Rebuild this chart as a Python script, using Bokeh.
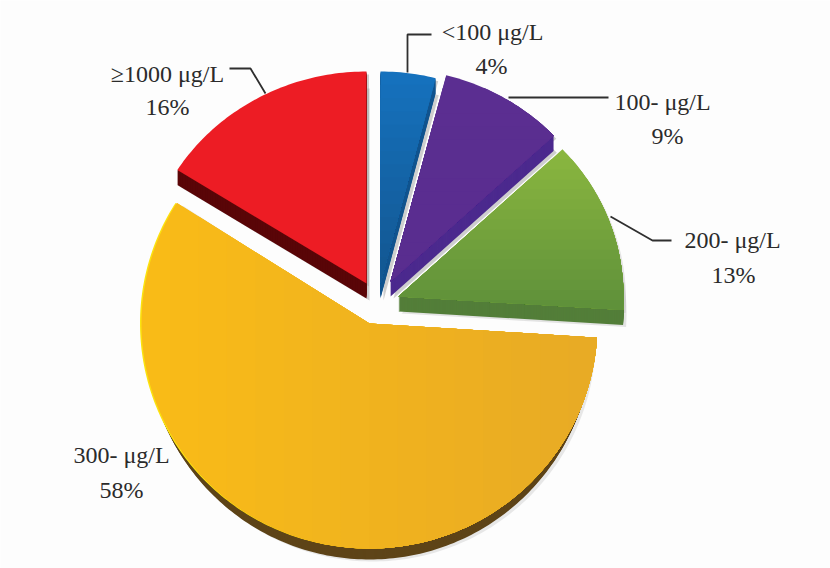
from math import sin, cos, radians
from bokeh.plotting import figure
from bokeh.models import Range1d
from bokeh.core.properties import value
from bokeh.embed import file_html
from bokeh.resources import INLINE

# ---- data ----
categories = ["<100 μg/L", "100- μg/L", "200- μg/L", "300- μg/L", "≥1000 μg/L"]
percents = [4, 9, 13, 58, 16]
percent_labels = ["4%", "9%", "13%", "58%", "16%"]

# ---- layout (page pixels) ----
centers = [(380, 283), (390, 281), (398, 296), (369, 323), (366, 283)]
radii = [(222, 212), (224, 213), (225, 215), (228, 225), (224, 212)]
depths = [15, 15, 15, 11, 15]
side_shrink = [0, 0, 0, 0.0018, 0]
cat_pos = [(492, 31), (662, 101), (732, 239), (121, 454), (167, 73)]
pct_pos = [(491, 65), (667, 135), (733, 274), (121, 489), (167, 106)]
leaders = [
    ([407, 407, 431], [72, 34, 34]),
    ([508, 608], [97, 97]),
    ([610, 652, 671], [216, 240, 240]),
    ([265, 250, 229], [93, 68, 68]),
]

# ---- styles ----
top_colors = ["#1571bd", "#5b2e91", "#8ab63f", "#f9bb17", "#ed1c24"]
end_colors = ["#135791", "#592d8f", "#5f913a", "#e8ab25", "#ed1c24"]
gradient_axis = ["y", "y", "y", "x", "y"]
side_colors = ["#12558f", "#4c2a8e", "#537e39", "#5e4418", "#5a0608"]
shadow_alpha = [0.55, 0.55, 0.3, 0.25, 0.55]
draw_order = [4, 0, 1, 2, 3]


def outline(i, a0, a1):
    cx, cy = centers[i]
    rx, ry = radii[i]
    n = max(8, int(a1 - a0))
    xs, ys = [cx], [cy]
    for k in range(n + 1):
        t = radians(a0 + (a1 - a0) * k / n)
        xs.append(cx + rx * sin(t))
        ys.append(cy - ry * cos(t))
    return xs, ys


def clip(xs, ys, axis, limit):
    """Keep the part of the polygon whose x or y coordinate is at least limit."""
    pts = list(zip(xs, ys))
    idx = 0 if axis == "x" else 1
    out = []
    for j, a in enumerate(pts):
        b = pts[(j + 1) % len(pts)]
        ina, inb = a[idx] >= limit, b[idx] >= limit
        if ina:
            out.append(a)
        if ina != inb:
            f = (limit - a[idx]) / (b[idx] - a[idx])
            out.append((a[0] + (b[0] - a[0]) * f, a[1] + (b[1] - a[1]) * f))
    return [p[0] for p in out], [p[1] for p in out]


def mix(c0, c1, f):
    v0 = [int(c0[k:k + 2], 16) for k in (1, 3, 5)]
    v1 = [int(c1[k:k + 2], 16) for k in (1, 3, 5)]
    return "#%02x%02x%02x" % tuple(round(a + (b - a) * f) for a, b in zip(v0, v1))


# Bokeh's page template sets the body margin to 0, so the figure can fill the window.
p = figure(width=830, height=568, output_backend="svg", toolbar_location=None,
           x_range=Range1d(0, 830), y_range=Range1d(568, 0),
           min_border=0, background_fill_color="#fdfdfd", border_fill_color="#fdfdfd")
p.axis.visible = False
p.grid.visible = False
p.outline_line_color = None

# slice angles run clockwise from twelve o'clock
starts, total = [], 0
for v in percents:
    starts.append(total * 3.6)
    total += v

for i in draw_order:
    a0, a1 = starts[i], starts[i] + percents[i] * 3.6
    xs, ys = outline(i, a0, a1)
    d = depths[i]
    cx = centers[i][0]

    def narrowed(off):
        f = 1 - side_shrink[i] * off
        return [cx + (x - cx) * f for x in xs]

    # soft grey shadow
    p.patch([x + 3 for x in narrowed(d)], [y + d + 2 for y in ys], fill_color="#a8a8a8",
            fill_alpha=shadow_alpha[i], line_color=None)
    p.patch([x + 2.5 for x in narrowed(d)], [y + 3 for y in ys], fill_color="#a8a8a8",
            fill_alpha=shadow_alpha[i], line_color=None)
    # extruded side
    for off in range(d, 0, -1):
        p.patch(narrowed(off), [y + off for y in ys], fill_color=side_colors[i], line_color=None)
    if i == 3:  # bright rim on the left of the large slice
        p.patch([x - 1.5 for x in xs], ys, fill_color="#fbe30f", line_color=None)
    # surface, with stepped gradient
    p.patch(xs, ys, fill_color=top_colors[i], line_color=None)
    if top_colors[i] != end_colors[i]:
        axis = gradient_axis[i]
        vals = xs if axis == "x" else ys
        lo, hi = min(vals), max(vals)
        steps = 16
        for s in range(1, steps):
            cxs, cys = clip(xs, ys, axis, lo + (hi - lo) * s / steps)
            if len(cxs) > 2:
                p.patch(cxs, cys, fill_color=mix(top_colors[i], end_colors[i], s / (steps - 1)),
                        line_color=None)

p.multi_line([l[0] for l in leaders], [l[1] for l in leaders], line_color="#2f2f2f", line_width=1.8)

font = value("Liberation Serif")
p.text([c[0] for c in cat_pos], [c[1] for c in cat_pos], text=categories, text_font=font,
       text_font_size="24px", text_align="center", text_baseline="middle", text_color="#2b2b2b")
p.text([c[0] for c in pct_pos], [c[1] for c in pct_pos], text=percent_labels, text_font=font,
       text_font_size="24px", text_align="center", text_baseline="middle", text_color="#2b2b2b")

open("out.html", "w").write(file_html(p, INLINE))
